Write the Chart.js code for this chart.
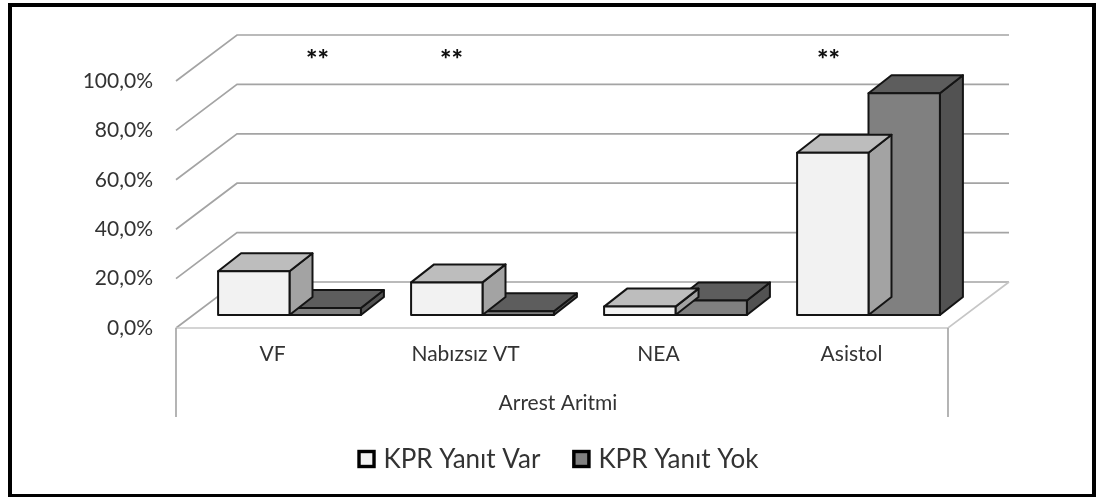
<!DOCTYPE html>
<html>
<head>
<meta charset="utf-8">
<script src="https://cdn.jsdelivr.net/npm/chart.js@4/dist/chart.umd.min.js"></script>
<style>
  html, body { margin: 0; padding: 0; background: #fff; }
  canvas { display: block; }
</style>
</head>
<body>
<canvas id="chart" width="1097" height="497"></canvas>
<script>
// Arrest rhythm distribution by CPR response (percent of each group)
const categories = ['VF', 'Nabızsız VT', 'NEA', 'Asistol'];
const seriesNames = ['KPR Yanıt Var', 'KPR Yanıt Yok'];
const yanitVar = [17.7, 13.2, 3.4, 65.7];
const yanitYok = [2.8, 1.5, 5.9, 89.8];
const significance = ['**', '**', '', '**'];
const yTickLabels = ['0,0%', '20,0%', '40,0%', '60,0%', '80,0%', '100,0%'];
const axisTitle = 'Arrest Aritmi';

const FONT = "Lato, 'Open Sans', sans-serif";
const TEXT = '#333333';

// oblique projection offsets (pixels)
const view = {
  front: { dx: -17, dy: 13 },   // bar front plane -> front edge of the floor
  wall:  { dx: 61,  dy: -46 },  // front edge of the floor -> back wall
  bar:   { dx: 23,  dy: -18 },  // depth of one column
  skirt: 89                     // height of the category label panel
};

function face(ctx, pts, fill) {
  ctx.beginPath();
  ctx.moveTo(pts[0][0], pts[0][1]);
  for (let i = 1; i < pts.length; i++) ctx.lineTo(pts[i][0], pts[i][1]);
  ctx.closePath();
  ctx.fillStyle = fill;
  ctx.fill();
  ctx.stroke();
}

function barBox(el) {
  const p = el.getProps(['x', 'y', 'base', 'width'], true);
  return { l: p.x - p.width / 2, r: p.x + p.width / 2, top: Math.min(p.y, p.base), base: Math.max(p.y, p.base) };
}

const scene3d = {
  id: 'scene3d',
  beforeDatasetsDraw(chart) {
    const { ctx, scales: { x, y } } = chart;
    const fx0 = x.left + view.front.dx;
    const fx1 = x.right + view.front.dx;
    ctx.save();
    // gridlines running along the side wall and the back wall
    ctx.strokeStyle = '#a4a4a4';
    ctx.lineWidth = 1.7;
    y.ticks.forEach(t => {
      const fy = y.getPixelForValue(t.value) + view.front.dy;
      ctx.beginPath();
      ctx.moveTo(fx0, fy);
      ctx.lineTo(fx0 + view.wall.dx, fy + view.wall.dy);
      ctx.lineTo(fx1 + view.wall.dx, fy + view.wall.dy);
      ctx.stroke();
    });
    // floor edges
    const fy0 = y.getPixelForValue(0) + view.front.dy;
    ctx.strokeStyle = '#c6c6c6';
    ctx.beginPath();
    ctx.moveTo(fx0, fy0);
    ctx.lineTo(fx1, fy0);
    ctx.lineTo(fx1 + view.wall.dx, fy0 + view.wall.dy);
    ctx.stroke();
    // label panel sides
    ctx.strokeStyle = '#a8a8a8';
    ctx.beginPath();
    ctx.moveTo(fx0, fy0); ctx.lineTo(fx0, fy0 + view.skirt);
    ctx.moveTo(fx1, fy0); ctx.lineTo(fx1, fy0 + view.skirt);
    ctx.stroke();
    ctx.restore();
  },
  beforeDatasetDraw(chart, args) {
    const ds = chart.data.datasets[args.index];
    const ctx = chart.ctx;
    const { dx, dy } = view.bar;
    ctx.save();
    ctx.lineWidth = 2;
    ctx.strokeStyle = '#141414';
    ctx.lineJoin = 'round';
    args.meta.data.forEach(el => {
      const b = barBox(el);
      face(ctx, [[b.r, b.top], [b.r + dx, b.top + dy], [b.r + dx, b.base + dy], [b.r, b.base]], ds.sideColor);
      face(ctx, [[b.l, b.top], [b.r, b.top], [b.r + dx, b.top + dy], [b.l + dx, b.top + dy]], ds.topColor);
    });
    ctx.restore();
  },
  afterDatasetDraw(chart, args) {
    const ctx = chart.ctx;
    ctx.save();
    ctx.lineWidth = 2;
    ctx.strokeStyle = '#141414';
    ctx.lineJoin = 'round';
    args.meta.data.forEach(el => {
      const b = barBox(el);
      ctx.strokeRect(b.l, b.top, b.r - b.l, b.base - b.top);
    });
    ctx.restore();
  },
  afterDraw(chart, args, opts) {
    const { ctx, scales: { x, y } } = chart;
    const fx0 = x.left + view.front.dx;
    const fx1 = x.right + view.front.dx;
    const fy0 = y.getPixelForValue(0) + view.front.dy;
    const cx = (fx0 + fx1) / 2 - 4;
    ctx.save();

    // category axis title
    ctx.fillStyle = TEXT;
    ctx.font = `21px ${FONT}`;
    ctx.textAlign = 'center';
    ctx.textBaseline = 'middle';
    ctx.fillText(axisTitle, cx, fy0 + 75);

    // significance marks above the columns
    ctx.font = `900 27px ${FONT}`;
    ctx.fillStyle = '#111';
    ctx.textBaseline = 'alphabetic';
    significance.forEach((m, i) => {
      if (!m) return;
      ctx.fillText(m, x.getPixelForValue(i) + opts.markNudge[i], opts.markY);
    });

    // legend
    ctx.font = `26px ${FONT}`;
    const box = 18, gap = 8, spacing = 32;
    const items = chart.data.datasets.map(ds => ({ label: ds.label, color: ds.backgroundColor, w: ctx.measureText(ds.label).width }));
    const total = items.reduce((s, it) => s + box + gap + it.w, 0) + spacing * (items.length - 1);
    let lx = cx - total / 2;
    const ly = fy0 + 131;
    ctx.textAlign = 'left';
    ctx.textBaseline = 'middle';
    items.forEach(it => {
      ctx.fillStyle = it.color;
      ctx.fillRect(lx, ly - box / 2, box, box);
      ctx.lineWidth = 3.4;
      ctx.strokeStyle = '#000';
      ctx.strokeRect(lx + 1.5, ly - box / 2 + 1.5, box - 3, box - 3);
      ctx.fillStyle = TEXT;
      ctx.fillText(it.label, lx + box + gap, ly + 1);
      lx += box + gap + it.w + spacing;
    });

    // outer frame
    ctx.lineWidth = 4;
    ctx.strokeStyle = '#000';
    ctx.strokeRect(10, 5, 1084, 491);
    ctx.restore();
  }
};

new Chart(document.getElementById('chart'), {
  type: 'bar',
  data: {
    labels: categories,
    datasets: [
      { label: seriesNames[0], data: yanitVar, backgroundColor: '#f2f2f2', topColor: '#bdbdbd', sideColor: '#a3a3a3' },
      { label: seriesNames[1], data: yanitYok, backgroundColor: '#808080', topColor: '#5d5d5d', sideColor: '#525252' }
    ]
  },
  options: {
    responsive: false,
    animation: false,
    devicePixelRatio: 1,
    layout: { padding: { top: 68, left: 0, right: 132, bottom: 0 } },
    datasets: { bar: { categoryPercentage: 0.74, barPercentage: 1, borderWidth: 0, clip: false } },
    plugins: {
      legend: { display: false },
      tooltip: { enabled: false },
      scene3d: { markNudge: [28, -31, 0, -40], markY: 69 }
    },
    scales: {
      x: {
        type: 'category',
        offset: true,
        grid: { display: false, drawTicks: false, tickLength: 0 },
        border: { display: false },
        ticks: { color: TEXT, font: { family: FONT, size: 21 }, padding: 27, labelOffset: -17, maxRotation: 0, autoSkip: false },
        afterFit: s => { s.height = 182; }
      },
      y: {
        min: 0,
        max: 100,
        grid: { display: false, drawTicks: false, tickLength: 0 },
        border: { display: false },
        ticks: {
          stepSize: 20,
          color: TEXT,
          font: { family: FONT, size: 21 },
          padding: 40,
          labelOffset: 13,
          callback: (v, i) => yTickLabels[i]
        },
        afterFit: s => { s.width = 193; }
      }
    }
  },
  plugins: [scene3d]
});
</script>
</body>
</html>
